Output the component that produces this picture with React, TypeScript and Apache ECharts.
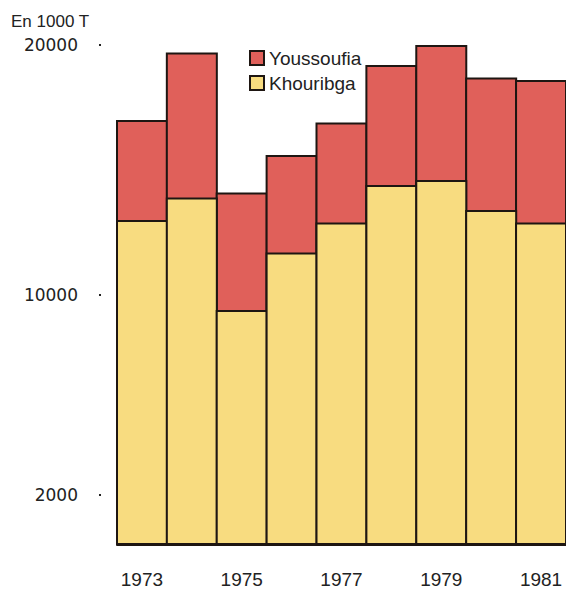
import React, { useEffect, useRef } from "react";
import * as echarts from "echarts";

const years = ["1973", "1974", "1975", "1976", "1977", "1978", "1979", "1980", "1981"];
const khouribga = [13000, 13900, 9400, 11700, 12900, 14400, 14600, 13400, 12900];
const youssoufia = [4000, 5800, 4700, 3900, 4000, 4800, 5400, 5300, 5700];
const yTickValues = [2000, 10000, 20000];
const unitLabel = "En 1000 T";

const RED = "#e0605a";
const YELLOW = "#f8dc80";
const EDGE = "#1e1612";

export default function App() {
  const ref = useRef<HTMLDivElement>(null);
  useEffect(() => {
    document.body.style.margin = "0";
    if (!ref.current) return;
    // Youssoufia sits on top of Khouribga: its bar reaches the sum of both.
    const totals = khouribga.map((k, i) => k + youssoufia[i]);
    const chart = echarts.init(ref.current, null, { renderer: "svg" });
    chart.setOption({
      animation: false,
      backgroundColor: "#ffffff",
      title: {
        text: unitLabel,
        left: 6,
        top: 8,
        textStyle: {
          fontFamily: "'Liberation Sans', Arial, sans-serif",
          fontWeight: "normal",
          fontSize: 17,
          color: "#222",
        },
      },
      legend: {
        left: 244,
        top: 43,
        orient: "vertical",
        itemWidth: 14,
        itemHeight: 14,
        itemGap: 5,
        itemTextGap: 8,
        icon: "rect",
        data: ["Youssoufia", "Khouribga"],
        textStyle: {
          fontFamily: "'Liberation Sans', Arial, sans-serif",
          fontSize: 19,
          lineHeight: 20,
          color: "#222",
        },
      },
      grid: { left: 117, top: 45, width: 450, height: 500 },
      xAxis: {
        type: "category",
        data: years,
        axisLine: { show: true, lineStyle: { color: EDGE, width: 2 } },
        axisTick: { show: false },
        axisLabel: {
          interval: 1,
          margin: 25,
          fontFamily: "'Liberation Sans', Arial, sans-serif",
          fontSize: 19,
          color: "#222",
        },
      },
      yAxis: {
        type: "value",
        min: 0,
        max: 20000,
        offset: 16,
        axisLine: { show: false },
        splitLine: { show: false },
        axisTick: {
          show: true,
          length: 2,
          customValues: yTickValues,
          lineStyle: { color: "#222", width: 2 },
        },
        axisLabel: {
          customValues: yTickValues,
          margin: 23,
          formatter: (v: number) => String(v),
          fontFamily: "'DejaVu Sans', sans-serif",
          fontSize: 17,
          color: "#222",
        },
      },
      series: [
        {
          name: "Youssoufia",
          type: "bar",
          barWidth: 52,
          barGap: "-100%",
          data: totals,
          itemStyle: { color: RED, borderColor: EDGE, borderWidth: 2 },
        },
        {
          name: "Khouribga",
          type: "bar",
          barWidth: 52,
          barGap: "-100%",
          data: khouribga,
          itemStyle: { color: YELLOW, borderColor: EDGE, borderWidth: 2 },
        },
      ],
    });
    return () => chart.dispose();
  }, []);
  return <div ref={ref} style={{ width: 566, height: 593 }} />;
}
